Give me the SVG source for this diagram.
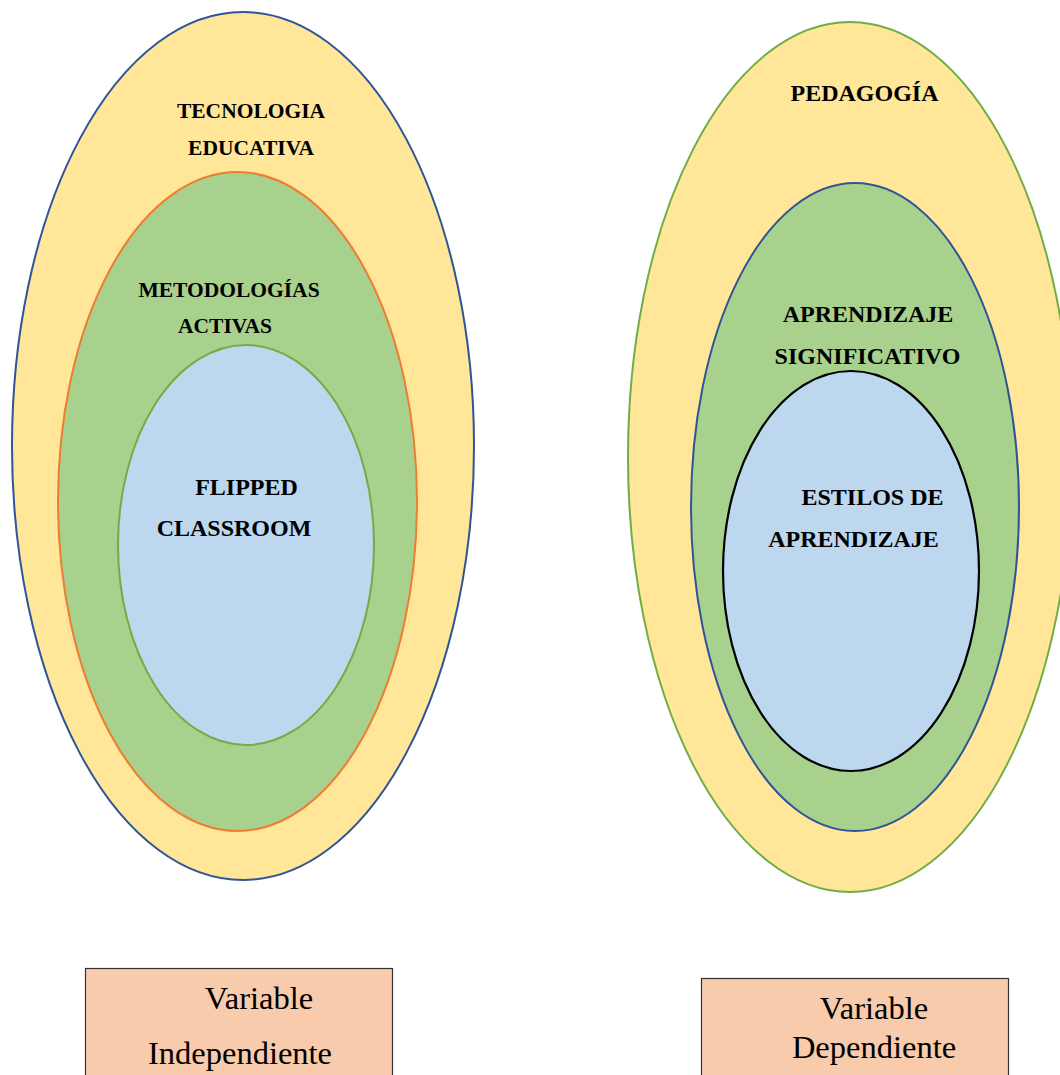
<svg xmlns="http://www.w3.org/2000/svg" width="1060" height="1075" viewBox="0 0 1060 1075">
<style>
.lbl{font-family:"Liberation Serif","Times New Roman",serif;font-weight:bold;font-size:21.5px;fill:#000;text-anchor:middle}
.lg{font-size:24px}
.box{fill:#F8CBAD;stroke:#333;stroke-width:1.2}
.bt{font-family:"Liberation Serif","Times New Roman",serif;font-size:32.5px;fill:#000;text-anchor:middle}
.y{fill:#FFE699}.g{fill:#A9D18E}.b{fill:#BDD7EE}
</style>
<rect width="1060" height="1075" fill="#fff"/>
<g id="tecnologia-educativa">
<ellipse class="y" cx="243" cy="446" rx="231" ry="434" stroke="#2F5597" stroke-width="2"/>
<text class="lbl" x="251" y="118">TECNOLOGIA</text>
<text class="lbl" x="251" y="155">EDUCATIVA</text>
</g>
<g id="metodologias-activas">
<ellipse class="g" cx="237.5" cy="501.5" rx="179.5" ry="329.5" stroke="#ED7D31" stroke-width="2"/>
<text class="lbl" x="229" y="297">METODOLOGÍAS</text>
<text class="lbl" x="225" y="333">ACTIVAS</text>
</g>
<g id="flipped-classroom">
<ellipse class="b" cx="246" cy="545" rx="128" ry="200" stroke="#70AD47" stroke-width="2"/>
<text class="lbl lg" x="246.5" y="495">FLIPPED</text>
<text class="lbl lg" x="234" y="536">CLASSROOM</text>
</g>
<g id="pedagogia">
<ellipse class="y" cx="850" cy="457" rx="222" ry="435" stroke="#70AD47" stroke-width="2"/>
<text class="lbl lg" x="864.5" y="101">PEDAGOGÍA</text>
</g>
<g id="aprendizaje-significativo">
<ellipse class="g" cx="855" cy="507" rx="164" ry="324" stroke="#2F5597" stroke-width="2"/>
<text class="lbl lg" x="868" y="322">APRENDIZAJE</text>
<text class="lbl lg" x="867.5" y="364">SIGNIFICATIVO</text>
</g>
<g id="estilos-de-aprendizaje">
<ellipse class="b" cx="851" cy="571" rx="128" ry="200" stroke="#000" stroke-width="2.2"/>
<text class="lbl lg" x="872.5" y="505">ESTILOS DE</text>
<text class="lbl lg" x="853.5" y="547">APRENDIZAJE</text>
</g>
<g id="variable-independiente">
<rect class="box" x="85.5" y="968.5" width="307" height="120"/>
<text class="bt" x="259" y="1009">Variable</text>
<text class="bt" x="240" y="1064">Independiente</text>
</g>
<g id="variable-dependiente">
<rect class="box" x="701.5" y="978.5" width="307" height="110"/>
<text class="bt" x="874" y="1019">Variable</text>
<text class="bt" x="874" y="1058">Dependiente</text>
</g>
<g id="connectors"></g>
</svg>
